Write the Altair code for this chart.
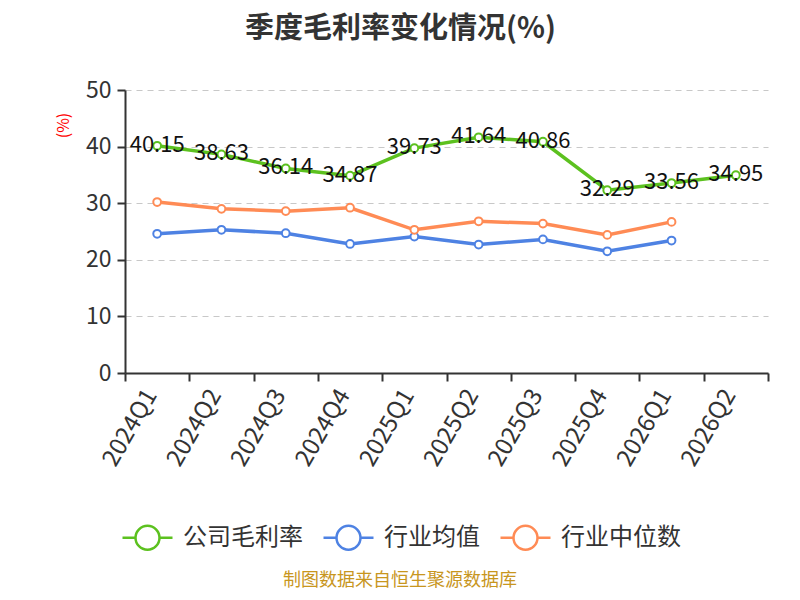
import altair as alt
import pandas as pd

quarters = ["2024Q1", "2024Q2", "2024Q3", "2024Q4", "2025Q1", "2025Q2",
            "2025Q3", "2025Q4", "2026Q1", "2026Q2"]
company = [40.15, 38.63, 36.14, 34.87, 39.73, 41.64, 40.86, 32.29, 33.56, 34.95]
ind_avg = [24.6, 25.3, 24.7, 22.8, 24.1, 22.7, 23.6, 21.5, 23.4, None]
ind_med = [30.2, 29.0, 28.6, 29.2, 25.3, 26.8, 26.4, 24.4, 26.7, None]
series_names = ["公司毛利率", "行业均值", "行业中位数"]
colors = ["#5cc11f", "#4e82e3", "#ff8b55"]
title_text = "季度毛利率变化情况(%)"
source_text = "制图数据来自恒生聚源数据库"
FONT = "Microsoft YaHei, Noto Sans CJK SC, sans-serif"

rows = []
for name, vals in zip(series_names, [company, ind_avg, ind_med]):
    for q, v in zip(quarters, vals):
        if v is not None:
            rows.append({"quarter": q, "value": v, "series": name})
df = pd.DataFrame(rows)

x_enc = alt.X("quarter:N", sort=quarters,
              scale=alt.Scale(type="band", domain=quarters, paddingInner=0, paddingOuter=0),
              axis=alt.Axis(title=None, labelAngle=-60, labelAlign="right", labelBaseline="middle",
                            labelFontSize=24, labelColor="#333", labelPadding=10, labelOffset=-6,
                            tickBand="extent", tickSize=8, tickColor="#333", tickWidth=2,
                            domainColor="#333", domainWidth=2, grid=False, labelFont=FONT))
y_enc = alt.Y("value:Q", scale=alt.Scale(domain=[0, 50], nice=False),
              axis=alt.Axis(title="(%)", titleColor="red", titleFontSize=16, titleFontWeight="normal",
                            titleX=-54, titleY=35, titleFont=FONT,
                            values=[0, 10, 20, 30, 40, 50], labelFontSize=23, labelColor="#333",
                            labelPadding=6, tickSize=8, tickColor="#333", tickWidth=2,
                            domainColor="#333", domainWidth=2, grid=True, gridColor="#c8c8c8",
                            gridDash=[6, 5], gridWidth=1.2, labelFont=FONT))
color_enc = alt.Color("series:N", sort=series_names,
                      scale=alt.Scale(domain=series_names, range=colors),
                      legend=alt.Legend(title=None, orient="none", direction="horizontal",
                                        legendX=-4, legendY=421, labelFontSize=24, labelColor="#333",
                                        labelFont=FONT,
                                        symbolType="M-1,0L-0.48,0M0.48,0L1,0M-0.48,0A0.48,0.48 0 1,1 0.48,0A0.48,0.48 0 1,1 -0.48,0",
                                        symbolSize=2500, symbolStrokeWidth=2.5, symbolFillColor="white",
                                        labelOffset=9, columnPadding=15))

base = alt.Chart(df)
lines = base.mark_line(strokeWidth=3.5).encode(x=x_enc, y=y_enc, color=color_enc)
points = base.mark_point(filled=True, fill="white", size=60, strokeWidth=2, opacity=1).encode(
    x=x_enc, y=y_enc, stroke=alt.Stroke("series:N", scale=alt.Scale(domain=series_names, range=colors), legend=None))
labels = base.transform_filter(alt.datum.series == "公司毛利率").mark_text(
    fontSize=22, color="#111", baseline="middle", align="center", dy=-1, font=FONT).encode(
    x=x_enc, y=y_enc, text=alt.Text("value:Q", format=".2f"))
source = alt.Chart(pd.DataFrame({"t": [source_text]})).mark_text(
    fontSize=18, color="#c8961e", align="center", baseline="middle", font=FONT).encode(
    text="t:N", x=alt.value(275), y=alt.value(491))

chart = alt.layer(lines, points, labels, source).properties(
    width=643, height=283,
    autosize=alt.AutoSizeParams(type="none"),
    padding={"left": 117, "top": 82, "right": 24, "bottom": 219},
    title=alt.TitleParams(title_text, fontSize=29, fontWeight="bold", color="#333", font=FONT,
                          anchor="middle", dx=-46, offset=35),
).configure_view(stroke=None).configure_axis(labelFont=FONT)

chart.save("out.html", embed_options={"renderer": "svg", "actions": False})
